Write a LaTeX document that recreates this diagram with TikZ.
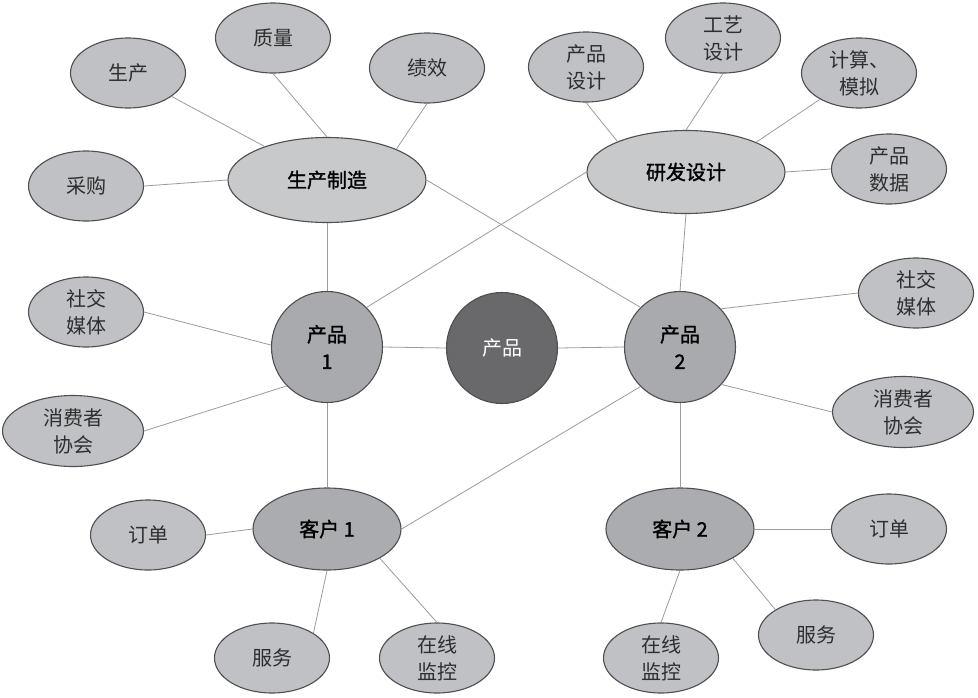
\documentclass[tikz,border=0pt]{standalone}
\usepackage{fontspec}
\setmainfont{Noto Sans CJK SC}
\newfontfamily\hubfont{Noto Sans CJK SC}[FakeBold=1.3]
\usetikzlibrary{shapes.geometric}
\definecolor{leafc}{HTML}{C0C1C4}
\definecolor{hubc}{HTML}{C8C9CB}
\definecolor{prodc}{HTML}{A9AAAD}
\definecolor{custc}{HTML}{ABACAF}
\definecolor{centc}{HTML}{69696C}
\definecolor{bordc}{HTML}{4F4F52}
\definecolor{linkc}{HTML}{9C9C9E}
\definecolor{textc}{HTML}{2E2E30}
\begin{document}
\begin{tikzpicture}[x=1pt,y=-1pt,
  base/.style={draw=bordc, line width=1.1pt, inner sep=0pt, align=center, text=textc},
  leafnode/.style={base, ellipse, fill=leafc, minimum width=115pt, minimum height=70pt, font=\fontsize{20}{27}\selectfont},
  widenode/.style={leafnode, minimum width=141pt, minimum height=71pt},
  hubnode/.style={base, ellipse, fill=hubc, minimum width=198pt, minimum height=85pt, text=black, font=\fontsize{20}{24}\hubfont},
  prodnode/.style={base, circle, fill=prodc, minimum size=111pt, text=black, font=\fontsize{20}{27}\hubfont},
  custnode/.style={base, ellipse, fill=custc, minimum width=148pt, minimum height=82pt, text=black, font=\fontsize{20}{24}\hubfont},
  centnode/.style={base, circle, fill=centc, minimum size=111pt, text=white, font=\fontsize{20}{24}\selectfont},
  link/.style={draw=linkc, line width=0.8pt}]
\useasboundingbox (0,0) rectangle (978,697);
\fill[white] (0,0) rectangle (978,697);

% hubs
\node[hubnode] (mfg) at (327,180) {生产制造};
\node[hubnode, minimum height=83pt] (rd) at (686,172) {研发设计};
% products
\node[prodnode] (p1) at (327,347) {产品\\1};
\node[centnode] (pc) at (502,348) {产品};
\node[prodnode] (p2) at (680,347) {产品\\2};
% customers
\node[custnode] (c1) at (327,529) {客户 1};
\node[custnode] (c2) at (680,529) {客户 2};

% leaves of mfg
\node[leafnode] (prod) at (128,73) {生产};
\node[leafnode] (qual) at (273,38) {质量};
\node[leafnode] (perf) at (427,68) {绩效};
\node[leafnode] (buy) at (86,186) {采购};
% leaves of rd
\node[leafnode] (pdes) at (586,67) {产品\\设计};
\node[leafnode] (tdes) at (723,38) {工艺\\设计};
\node[leafnode] (calc) at (859,73) {计算、\\模拟};
\node[leafnode] (pdata) at (889,169) {产品\\数据};
% leaves of products
\node[leafnode] (socl) at (86,312) {社交\\媒体};
\node[widenode] (conl) at (73,431) {消费者\\协会};
\node[leafnode] (socr) at (916,293) {社交\\媒体};
\node[widenode] (conr) at (903,412) {消费者\\协会};
% leaves of customers
\node[leafnode] (ordl) at (148,535) {订单};
\node[leafnode] (serl) at (272,658) {服务};
\node[leafnode] (monl) at (437,658) {在线\\监控};
\node[leafnode] (ordr) at (889,529) {订单};
\node[leafnode] (serr) at (816,635) {服务};
\node[leafnode] (monr) at (661,658) {在线\\监控};

% connectors
\draw[link] (prod) -- (mfg);
\draw[link] (qual.south) -- (mfg.north);
\draw[link] (perf.south) -- (mfg.24);
\draw[link] (buy.east) -- (mfg.west);
\draw[link] (mfg.south) -- (p1.north);
\draw[link] (mfg.east) -- (p2.135);
\draw[link] (rd.west) -- (p1.45);
\draw[link] (rd.south) -- (p2.north);
\draw[link] (pdes.south) -- (rd.156);
\draw[link] (tdes.south) -- (rd.north);
\draw[link] (calc.214) -- (rd.23);
\draw[link] (pdata.west) -- (rd.east);
\draw[link] (p2.43) -- (socr.west);
\draw[link] (socl.east) -- (p1.178);
\draw[link] (conl.east) -- (p1.224);
\draw[link] (p1.east) -- (pc.west);
\draw[link] (pc.east) -- (p2.west);
\draw[link] (p1.south) -- (c1.north);
\draw[link] (p2.225) -- (c1.east);
\draw[link] (p2.-42) -- (conr.west);
\draw[link] (p2.south) -- (c2.north);
\draw[link] (c1.west) -- (ordl.east);
\draw[link] (c1.south) -- (serl.31);
\draw[link] (c1.-29) -- (monl.north);
\draw[link] (c2.east) -- (ordr.west);
\draw[link] (c2.-29) -- (serr.148);
\draw[link] (c2.south) -- (monr.north);
\end{tikzpicture}
\end{document}
